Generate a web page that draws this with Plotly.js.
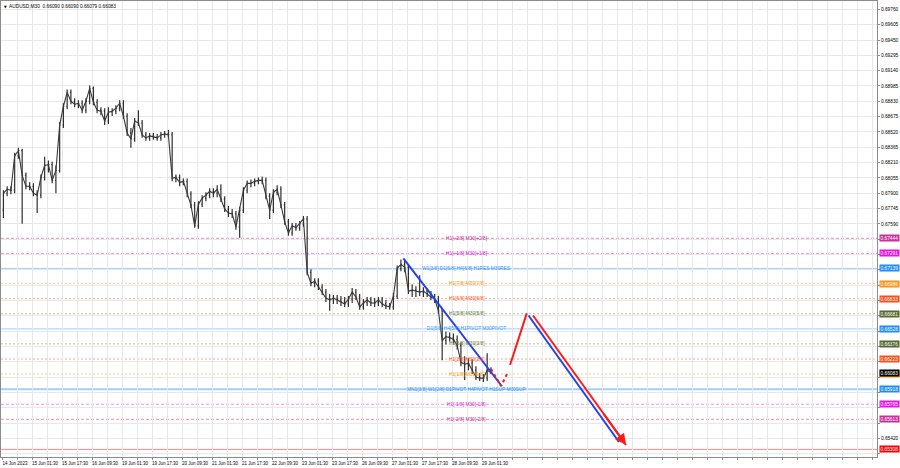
<!DOCTYPE html>
<html>
<head>
<meta charset="utf-8">
<script src="https://cdn.plot.ly/plotly-3.0.1.min.js"></script>
<style>
html,body{margin:0;padding:0;background:#fff;}
#chart{width:900px;height:468px;}
</style>
</head>
<body>
<div id="chart"></div>
<script>
// ---------- DATA ----------
const symbolName = "AUDUSD,M30";
const lastBarOHLC = [0.66090, 0.66090, 0.66079, 0.66083];

// time axis labels (one every 32 M30 bars)
const timeLabels = ["14 Jun 2023","15 Jun 01:30","15 Jun 17:30","16 Jun 09:30","19 Jun 01:30",
  "19 Jun 17:30","20 Jun 09:30","21 Jun 01:30","21 Jun 17:30","22 Jun 09:30","23 Jun 01:30",
  "23 Jun 17:30","26 Jun 09:30","27 Jun 01:30","27 Jun 17:30","28 Jun 09:30","29 Jun 01:30"];

// price axis labels ("" where the level boxes cover the scale)
const priceLabels = ["0.69760","0.69605","0.69450","0.69295","0.69140","0.68985","0.68830","0.68675",
  "0.68520","0.68365","0.68210","0.68055","0.67900","0.67745","0.67590","","","",
  "","","","","","","","","","",
  "0.65420",""];
const priceTickValues = [0.69760,0.69605,0.69450,0.69295,0.69140,0.68985,0.68830,0.68675,
  0.68520,0.68365,0.68210,0.68055,0.67900,0.67745,0.67590,0.67435,0.67280,0.67125,
  0.66970,0.66815,0.66660,0.66505,0.66350,0.66195,0.66040,0.65885,0.65730,0.65575,
  0.65420,0.65265];

// price bars (each bar = 2 hours)
const barOpen = [
.6773,.6790,.6794,.6793,.6828,.6833,.6808,.6797,.6797,.6790,
.6788,.6806,.6818,.6819,.6803,.6813,.6859,.6878,.6892,.6883,
.6880,.6881,.6874,.6883,.6896,.6882,.6874,.6873,.6863,.6872,
.6873,.6876,.6881,.6868,.6851,.6845,.6863,.6861,.6849,.6846,
.6848,.6847,.6846,.6849,.6850,.6849,.6805,.6806,.6801,.6802,
.6789,.6778,.6757,.6779,.6785,.6788,.6792,.6790,.6794,.6784,
.6774,.6770,.6769,.6756,.6773,.6793,.6800,.6800,.6802,.6803,
.6803,.6787,.6773,.6791,.6794,.6778,.6761,.6750,.6757,.6755,
.6759,.6764,.6710,.6699,.6701,.6695,.6690,.6684,.6682,.6684,
.6682,.6680,.6678,.6683,.6690,.6685,.6675,.6679,.6682,.6679,
.6679,.6682,.6678,.6676,.6675,.6686,.6714,.6718,.6715,.6691,
.6692,.6691,.6690,.6691,.6688,.6685,.6683,.6671,.6641,.6645,
.6644,.6642,.6636,.6619,.6617,.6618,.6611,.6604,.6603,.6603,
.6611];
const barHigh = [
.6793,.6797,.6797,.6831,.6836,.6835,.6811,.6801,.6800,.6793,
.6809,.6827,.6823,.6822,.6818,.6862,.6881,.6895,.6895,.6886,
.6884,.6884,.6886,.6899,.6898,.6885,.6877,.6876,.6877,.6876,
.6879,.6884,.6884,.6871,.6856,.6866,.6874,.6864,.6852,.6851,
.6851,.6850,.6852,.6853,.6854,.6852,.6809,.6809,.6805,.6805,
.6792,.6781,.6782,.6788,.6791,.6795,.6795,.6798,.6799,.6787,
.6777,.6774,.6772,.6776,.6796,.6803,.6804,.6805,.6806,.6807,
.6806,.6790,.6794,.6798,.6797,.6781,.6764,.6760,.6760,.6762,
.6767,.6767,.6713,.6704,.6704,.6698,.6693,.6688,.6687,.6687,
.6686,.6685,.6686,.6694,.6693,.6688,.6683,.6685,.6685,.6684,
.6685,.6685,.6682,.6679,.6689,.6717,.6723,.6722,.6718,.6698,
.6696,.6707,.6695,.6694,.6691,.6688,.6686,.6674,.6650,.6649,
.6648,.6646,.6639,.6625,.6623,.6622,.6615,.6608,.6607,.6628,
.6614];
const barLow = [
.6765,.6787,.6789,.6790,.6825,.6759,.6794,.6793,.6787,.6770,
.6785,.6803,.6811,.6800,.6790,.6811,.6856,.6875,.6880,.6877,
.6876,.6871,.6871,.6880,.6879,.6871,.6869,.6859,.6860,.6868,
.6870,.6873,.6865,.6848,.6836,.6842,.6858,.6846,.6843,.6843,
.6844,.6843,.6843,.6846,.6846,.6802,.6801,.6797,.6798,.6786,
.6775,.6755,.6754,.6776,.6782,.6785,.6786,.6786,.6781,.6771,
.6766,.6765,.6753,.6745,.6770,.6790,.6796,.6797,.6799,.6799,
.6784,.6764,.6770,.6788,.6775,.6758,.6747,.6747,.6752,.6752,
.6756,.6707,.6696,.6695,.6692,.6687,.6680,.6671,.6678,.6678,
.6676,.6675,.6675,.6679,.6682,.6672,.6672,.6676,.6676,.6675,
.6676,.6675,.6673,.6672,.6672,.6683,.6711,.6710,.6688,.6685,
.6685,.6686,.6685,.6685,.6682,.6679,.6668,.6621,.6637,.6640,
.6638,.6632,.6615,.6601,.6611,.6607,.6601,.6600,.6599,.6600,
.6607];
const barClose = [
.6790,.6794,.6793,.6828,.6833,.6808,.6797,.6797,.6790,.6788,
.6806,.6818,.6819,.6803,.6813,.6859,.6878,.6892,.6883,.6880,
.6881,.6874,.6883,.6896,.6882,.6874,.6873,.6863,.6872,.6873,
.6876,.6881,.6868,.6851,.6845,.6863,.6861,.6849,.6846,.6848,
.6847,.6846,.6849,.6850,.6849,.6805,.6806,.6801,.6802,.6789,
.6778,.6757,.6779,.6785,.6788,.6792,.6790,.6794,.6784,.6774,
.6770,.6769,.6756,.6773,.6793,.6800,.6800,.6802,.6803,.6803,
.6787,.6773,.6791,.6794,.6778,.6761,.6750,.6757,.6755,.6759,
.6764,.6710,.6699,.6701,.6695,.6690,.6684,.6682,.6684,.6682,
.6680,.6678,.6683,.6690,.6685,.6675,.6679,.6682,.6679,.6679,
.6682,.6678,.6676,.6675,.6686,.6714,.6718,.6715,.6691,.6692,
.6691,.6690,.6691,.6688,.6685,.6683,.6671,.6641,.6645,.6644,
.6642,.6636,.6619,.6617,.6618,.6611,.6604,.6603,.6603,.6611,
.66083];

// Murrey-math style levels
const levelPrices = [0.67444,0.67291,0.67139,0.66986,0.66833,0.66681,0.66528,0.66376,0.66223,0.66070,0.65918,0.65765,0.65613];
const levelTexts = ["H1[+2/8] M30[+2/8]","H1[+1/8] M30[+1/8]","W1[3/8] D1[6/8] H4[6/8] H1RES M30RES",
  "H1[7/8] M30[7/8]","H1[6/8] M30[6/8]","H1[5/8] M30[5/8]","D1[5/8] H4[5/8] H1PIVOT M30PIVOT",
  "H1[3/8] M30[3/8]","H1[2/8] M30[2/8]","H1[1/8] M30[1/8]",
  "MN1[3/8] W1[2/8] D1PIVOT H4PIVOT H1SUP M30SUP","H1[-1/8] M30[-1/8]","H1[-2/8] M30[-2/8]"];
const levelKinds = ["p2","p1","blue","orange","red","olive","blue","olive","red","orange","blueMain","p1","p2"];
const targetLevel = 0.65308;

// drawn trend / projection lines (bar index, price)
const trendX = [428.1, 533.0];          const trendY = [0.67242, 0.65950];
const dipX = [521.6, 532.3, 539.2];     const dipY = [0.66122, 0.65950, 0.66081];
const upX = [541.9, 559.7];             const upY = [0.66162, 0.66685];
const projBlueX = [561.6, 658.1];       const projBlueY = [0.66663, 0.65383];
const projRedX = [566.4, 665.6];        const projRedY = [0.66663, 0.65353];

// ---------- STYLE ----------
const FONT = "Liberation Sans, Arial, sans-serif";
const kindStyle = {
  p2:      {box:"#C8309A", text:"#C8309A", line:"#E48BC6", dash:"3px,2px", w:1},
  p1:      {box:"#E812E8", text:"#E020E0", line:"#F090F0", dash:"3px,2px", w:1},
  blue:    {box:"#1E8CFF", text:"#2F95FF", line:"#9ED0FF", dash:"solid", w:1},
  blueMain:{box:"#1E8CFF", text:"#2F95FF", line:"#9ED0FF", dash:"solid", w:2},
  orange:  {box:"#F7941D", text:"#F59A1E", line:"#F8CD98", dash:"2px,2px", w:1},
  red:     {box:"#FF4E1A", text:"#FF5522", line:"#F9A88E", dash:"2px,2px", w:1},
  olive:   {box:"#566B30", text:"#6E8040", line:"#B7C09A", dash:"2px,2px", w:1}
};

// ---------- BUILD ----------
const barX = barOpen.map((_, i) => 4 * i + 1.5);
const traces = [];
traces.push({
  type: "ohlc", x: barX, open: barOpen, high: barHigh, low: barLow, close: barClose,
  increasing: {line: {color: "#303030", width: 1.2}},
  decreasing: {line: {color: "#303030", width: 1.2}},
  tickwidth: 0.25, hoverinfo: "skip", showlegend: false
});
// connecting stroke through the bar closes (the dense M30 bars read as one jagged line)
traces.push({type: "scatter", mode: "lines", x: barX, y: barClose,
  line: {color: "#3a3a3a", width: 1.1}, hoverinfo: "skip", showlegend: false});

function line(x, y, color, width, dash) {
  return {type: "scatter", mode: "lines", x: x, y: y, line: {color: color, width: width, dash: dash || "solid"},
    hoverinfo: "skip", showlegend: false, cliponaxis: false};
}
traces.push(line(trendX, trendY, "#2142EE", 2));
traces.push(line(dipX, dipY, "#FF1A1A", 2, "dot"));
traces.push(line(upX, upY, "#FF1A1A", 2));
traces.push(line(projBlueX, projBlueY, "#2142EE", 2));
traces.push(line(projRedX, projRedY, "#FF1A1A", 2));

// grid / ticks
const xTickVals = [], xTickText = [];
for (let n = 0; n <= 928; n += 16) {
  xTickVals.push(n);
  const k = n / 32;
  xTickText.push(Number.isInteger(k) && k < timeLabels.length ? timeLabels[k] : "");
}

const shapes = [];
const annotations = [];
levelPrices.forEach((p, i) => {
  const st = kindStyle[levelKinds[i]];
  shapes.push({type: "line", xref: "paper", x0: 0, x1: 1, yref: "y", y0: p, y1: p, layer: "between",
    line: {color: st.line, width: st.w, dash: st.dash}});
  annotations.push({xref: "x", yref: "y", x: 495, y: p, text: levelTexts[i], showarrow: false,
    xanchor: "center", yanchor: "middle", font: {family: FONT, size: 4.8, color: st.text}});
});
shapes.push({type: "line", xref: "paper", x0: 0, x1: 1, yref: "y", y0: targetLevel, y1: targetLevel,
  layer: "between", line: {color: "#FF8C8C", width: 1}});

function priceBox(p, bg, txt) {
  annotations.push({xref: "paper", yref: "y", x: 1, y: p, xanchor: "left", yanchor: "middle", xshift: 1.5,
    text: txt, showarrow: false, bgcolor: bg, borderpad: 0.5,
    font: {family: FONT, size: 4.8, color: "#ffffff"}});
}
levelPrices.forEach((p, i) => priceBox(p, kindStyle[levelKinds[i]].box, p.toFixed(5)));
priceBox(targetLevel, "#FF0000", targetLevel.toFixed(5));
const lastPrice = barClose[barClose.length - 1];
priceBox(lastPrice, "#000000", lastPrice.toFixed(5));

// arrowheads at line ends
function arrowHead(xs, ys, color) {
  const n = xs.length;
  const x1 = xs[n - 1], y1 = ys[n - 1], x0 = xs[n - 2], y0 = ys[n - 2];
  annotations.push({xref: "x", yref: "y", axref: "x", ayref: "y", x: x1, y: y1,
    ax: x1 - 0.25 * (x1 - x0), ay: y1 - 0.25 * (y1 - y0), text: "", showarrow: true,
    arrowhead: 2, arrowsize: 1.1, arrowwidth: 2, arrowcolor: color});
}
arrowHead(dipX, dipY, "#FF1A1A");
arrowHead(projRedX, projRedY, "#FF1A1A");

// header
annotations.push({xref: "paper", yref: "paper", x: 0, y: 1, xanchor: "left", yanchor: "top", xshift: 1, yshift: -1.5,
  text: "▼", showarrow: false, font: {family: "DejaVu Sans", size: 3.5, color: "#000"}});
annotations.push({xref: "paper", yref: "paper", x: 0, y: 1, xanchor: "left", yanchor: "top", xshift: 6, yshift: -0.5,
  text: symbolName + "  " + lastBarOHLC.map(v => v.toFixed(5)).join(" "), showarrow: false,
  font: {family: FONT, size: 4.8, color: "#000"}});

const layout = {
  width: 900, height: 468,
  margin: {l: 1, r: 23, t: 1, b: 11, pad: 0},
  paper_bgcolor: "#ffffff", plot_bgcolor: "#ffffff",
  showlegend: false, hovermode: false, dragmode: false,
  xaxis: {
    range: [-1.07, 933.3], tickmode: "array", tickvals: xTickVals, ticktext: xTickText,
    tickangle: 0, showgrid: true, gridcolor: "#e8e8e8", gridwidth: 1, zeroline: false,
    showline: true, mirror: true, linecolor: "#8c8c8c", linewidth: 1,
    ticks: "outside", ticklen: 2, tickcolor: "#8c8c8c",
    tickfont: {family: FONT, size: 4.5, color: "#000"}, ticklabelshift: 13,
    rangeslider: {visible: false}, fixedrange: true, automargin: false
  },
  yaxis: {
    side: "right", range: [0.652316, 0.698446], tickmode: "array", tickvals: priceTickValues, ticktext: priceLabels,
    showgrid: true, gridcolor: "#e8e8e8", gridwidth: 1, zeroline: false,
    showline: true, mirror: true, linecolor: "#8c8c8c", linewidth: 1,
    ticks: "outside", ticklen: 2, tickcolor: "#8c8c8c",
    tickfont: {family: FONT, size: 4.8, color: "#000"}, fixedrange: true, automargin: false
  },
  shapes: shapes,
  annotations: annotations
};

Plotly.newPlot("chart", traces, layout, {displayModeBar: false, staticPlot: true});
</script>
</body>
</html>
